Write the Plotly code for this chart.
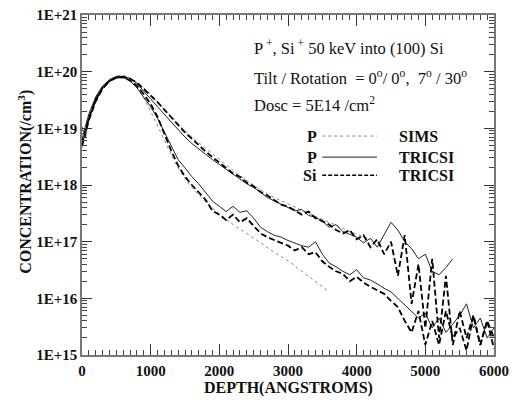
import plotly.graph_objects as go

# ---------------- data ----------------
depth_grid_61 = list(range(0, 6100, 100))
depth_grid_55 = list(range(0, 5500, 100))

# Tilt/Rotation 0/0 (upper, channelled band)
p_tricsi_00 = [6.5e18, 1.8e19, 3.6e19, 5.6e19, 7.2e19, 8.1e19, 8.3e19, 7.6e19, 6.2e19, 4.6e19,
               3.3e19, 2.4e19, 1.75e19, 1.3e19, 9.5e18, 7e18, 5.4e18, 4.3e18, 3.4e18, 2.8e18,
               2.3e18, 1.9e18, 1.55e18, 1.3e18, 1.05e18, 9e17, 7.5e17, 6e17, 5.2e17, 4.5e17,
               4.0e17, 3.5e17, 3.7e17, 2.9e17, 2.7e17, 2.3e17, 1.8e17, 2.0e17, 1.5e17, 1.35e17,
               1.2e17, 9.5e16, 1.15e17, 8e16, 1.3e17, 2.2e17, 1.6e17, 1.0e17, 7.5e16, 5e16,
               6e16, 3e16, 2.6e16, 3.5e16, 5e16]
si_tricsi_00 = [5.5e18, 1.5e19, 3.2e19, 5.2e19, 6.8e19, 7.8e19, 8.0e19, 7.5e19, 6.4e19, 5.0e19,
                3.8e19, 2.9e19, 2.1e19, 1.55e19, 1.15e19, 8.5e18, 6.5e18, 5.0e18, 3.9e18, 3.1e18,
                2.5e18, 2.0e18, 1.6e18, 1.4e18, 1.1e18, 9.5e17, 7.5e17, 6.5e17, 5.5e17, 4.5e17,
                4.2e17, 3.6e17, 3.0e17, 3.4e17, 2.6e17, 2.3e17, 2.0e17, 1.6e17, 1.4e17, 1.6e17,
                1.1e17, 1.3e17, 8e16, 1.1e17, 6e16, 1.0e17, 2.5e16, 1.3e17, 8e15, 4e16,
                3e15, 5e16, 2e15, 2.5e16, 1.5e15, 6e15, 2e15, 5e15, 1.5e15, 4e15, 2e15]
sims_depth_00 = [0, 50, 100, 150, 200, 300, 400, 500, 600, 700, 800, 900, 1000, 1200, 1400,
                 1600, 1800, 2000, 2200, 2400, 2600, 2800, 3000, 3200, 3400, 3600, 3800, 4000, 4200]
p_sims_00 = [1.1e19, 7e18, 1.6e19, 2.4e19, 3.3e19, 5.4e19, 7.2e19, 8.4e19, 8.6e19, 7.8e19, 6.5e19,
             5.2e19, 4.0e19, 2.2e19, 1.2e19, 7e18, 4.4e18, 2.8e18, 1.8e18, 1.2e18, 8.2e17,
             6e17, 4.6e17, 3.6e17, 2.8e17, 2.2e17, 1.7e17, 1.35e17, 1.1e17]

# Tilt/Rotation 7/30 (lower band)
p_tricsi_730 = [5e18, 1.5e19, 3.3e19, 5.4e19, 7.2e19, 8.2e19, 8.0e19, 6.8e19, 5.2e19, 3.6e19,
                2.4e19, 1.5e19, 8.5e18, 4.8e18, 2.8e18, 2.0e18, 1.4e18, 1.05e18, 7.5e17, 5.2e17,
                4.2e17, 3.4e17, 4.2e17, 3.3e17, 3.5e17, 2.6e17, 1.8e17, 1.5e17, 1.3e17, 1.2e17,
                1.05e17, 9.5e16, 8.5e16, 8e16, 1.0e17, 6e16, 4.2e16, 3.6e16, 3.0e16, 2.6e16,
                3.2e16, 2.3e16, 2.1e16, 1.8e16, 1.5e16, 1.3e16, 1.0e16, 7.5e15, 6e15, 4.5e15,
                5.5e15, 3e15, 4.5e15, 2.5e15, 3.5e15, 5e15, 8e15, 3e15, 4.5e15, 2e15, 3e15]
si_tricsi_730 = [4.8e18, 1.4e19, 3.0e19, 5.0e19, 6.8e19, 7.9e19, 8.0e19, 7.0e19, 5.6e19, 4.0e19,
                 2.7e19, 1.6e19, 8.0e18, 4.0e18, 2.2e18, 1.4e18, 1.0e18, 7.5e17, 5.5e17, 3.5e17,
                 3.0e17, 2.4e17, 3.0e17, 2.2e17, 2.6e17, 1.9e17, 1.4e17, 1.2e17, 1.05e17, 9.5e16,
                 8.5e16, 7e16, 8e16, 6e16, 6.5e16, 4.5e16, 3.6e16, 3.0e16, 2.7e16, 2.0e16,
                 2.4e16, 1.9e16, 1.6e16, 1.4e16, 1.2e16, 9e15, 7e15, 4e15, 2.5e15, 6e15,
                 1.5e15, 4e15, 1.5e15, 6e15, 2e15, 3e15, 1.2e15, 5e15, 1.5e15, 4e15, 1.3e15]
sims_depth_730 = [0, 50, 100, 150, 200, 300, 400, 500, 600, 700, 800, 900, 1000, 1100, 1200,
                  1300, 1400, 1500, 1600, 1800, 2000, 2200, 2400, 2600, 2800, 3000, 3200, 3400, 3600]
p_sims_730 = [1.0e19, 6.5e18, 1.5e19, 2.3e19, 3.1e19, 5.2e19, 7.0e19, 8.3e19, 8.3e19, 7.0e19,
              5.2e19, 3.4e19, 2.0e19, 1.1e19, 6e18, 3.4e18, 2.0e18, 1.3e18, 9e17, 5e17,
              3.1e17, 2.0e17, 1.4e17, 9.5e16, 6.5e16, 4.6e16, 3.0e16, 2.0e16, 1.3e16]

y_tickvals = [1e15, 1e16, 1e17, 1e18, 1e19, 1e20, 1e21]
y_ticktext = ["1E+15", "1E+16", "1E+17", "1E+18", "1E+19", "1E+20", "1E+21"]
x_tickvals = [0, 1000, 2000, 3000, 4000, 5000, 6000]

assert len(p_tricsi_00) == len(depth_grid_55)
assert len(si_tricsi_00) == len(depth_grid_61)
assert len(p_tricsi_730) == len(depth_grid_61)
assert len(si_tricsi_730) == len(depth_grid_61)
assert len(p_sims_00) == len(sims_depth_00)
assert len(p_sims_730) == len(sims_depth_730)

SERIF = "Liberation Serif"
INK = "#111111"

fig = go.Figure()
sims_style = dict(color="#8a8a8a", width=1, dash="dot")
ptr_style = dict(color="#222222", width=1)
sitr_style = dict(color="#000000", width=1.8, dash="6px,3px")

fig.add_trace(go.Scatter(x=sims_depth_00, y=p_sims_00, mode="lines", line=sims_style, showlegend=False))
fig.add_trace(go.Scatter(x=sims_depth_730, y=p_sims_730, mode="lines", line=sims_style, showlegend=False))
fig.add_trace(go.Scatter(x=depth_grid_55, y=p_tricsi_00, mode="lines", line=ptr_style, showlegend=False))
fig.add_trace(go.Scatter(x=depth_grid_61, y=p_tricsi_730, mode="lines", line=ptr_style, showlegend=False))
fig.add_trace(go.Scatter(x=depth_grid_61, y=si_tricsi_00, mode="lines", line=sitr_style, showlegend=False))
fig.add_trace(go.Scatter(x=depth_grid_61, y=si_tricsi_730, mode="lines", line=sitr_style, showlegend=False))

axis_common = dict(showline=True, linecolor="#777777", linewidth=1.5, mirror="allticks",
                   ticks="inside", tickcolor="#333333", showgrid=False, zeroline=False,
                   automargin=False, ticklabeloverflow="allow")

minor_y = [float(m) * 10.0 ** e for e in range(15, 21) for m in range(2, 10)]

fig.update_xaxes(range=[0, 6000], tickvals=x_tickvals, ticklen=11, ticklabelstandoff=1,
                 minor=dict(dtick=100, ticks="inside", ticklen=5, tickcolor="#444444"),
                 tickfont=dict(family=SERIF, size=15, color=INK, weight="bold"),
                 **axis_common)
fig.update_yaxes(type="log", range=[15, 21], tickvals=y_tickvals, ticktext=y_ticktext, ticklen=10,
                 minor=dict(ticks="inside", ticklen=5, tickcolor="#444444", tickvals=minor_y),
                 tickfont=dict(family=SERIF, size=15, color=INK, weight="bold"),
                 **axis_common)

title_font = dict(family=SERIF, size=16, color=INK, weight="bold")
fig.add_annotation(x=0.5, y=-0.097, xref="paper", yref="paper", text="DEPTH(ANGSTROMS)",
                   showarrow=False, xanchor="center", yanchor="middle", font=title_font)
fig.add_annotation(x=-0.138, y=0.51, xref="paper", yref="paper",
                   text="CONCENTRATION(/cm<sup>3</sup>)", textangle=-90,
                   showarrow=False, xanchor="center", yanchor="middle", font=title_font)

txt_font = dict(family=SERIF, size=16.5, color=INK)
header = [
    ("P<sup> +</sup>, Si<sup> +</sup> 50 keV into (100) Si", 0.903),
    ("Tilt / Rotation &nbsp;= 0<sup>o</sup>/ 0<sup>o</sup>, &nbsp;7<sup>o</sup> / 30<sup>o</sup>", 0.815),
    ("Dosc = 5E14 /cm<sup>2</sup>", 0.738),
]
for t, yy in header:
    fig.add_annotation(x=0.413, y=yy, xref="paper", yref="paper", text=t, showarrow=False,
                       xanchor="left", yanchor="middle", font=txt_font)

leg_font = dict(family=SERIF, size=16, color=INK)
legend_rows = [("P", "SIMS", 0.644, sims_style),
               ("P", "TRICSI", 0.582, dict(color="#222222", width=1)),
               ("Si", "TRICSI", 0.529, dict(color="#000000", width=1.5, dash="4px,2px"))]
for left, right, yy, st in legend_rows:
    fig.add_annotation(x=0.575, y=yy, xref="paper", yref="paper", text="<b>%s</b>" % left,
                       showarrow=False, xanchor="right", yanchor="middle", font=leg_font)
    fig.add_annotation(x=0.765, y=yy, xref="paper", yref="paper", text="<b>%s</b>" % right,
                       showarrow=False, xanchor="left", yanchor="middle", font=leg_font)
    fig.add_shape(type="line", xref="paper", yref="paper", x0=0.583, x1=0.716, y0=yy, y1=yy,
                  line=st)

# the page body has an 8px margin, so the figure is 8px smaller and margins shifted
fig.update_layout(width=514, height=392, margin=dict(l=74, r=28, t=7, b=45, autoexpand=False),
                  paper_bgcolor="white", plot_bgcolor="white", showlegend=False)

fig.write_html("out.html")
